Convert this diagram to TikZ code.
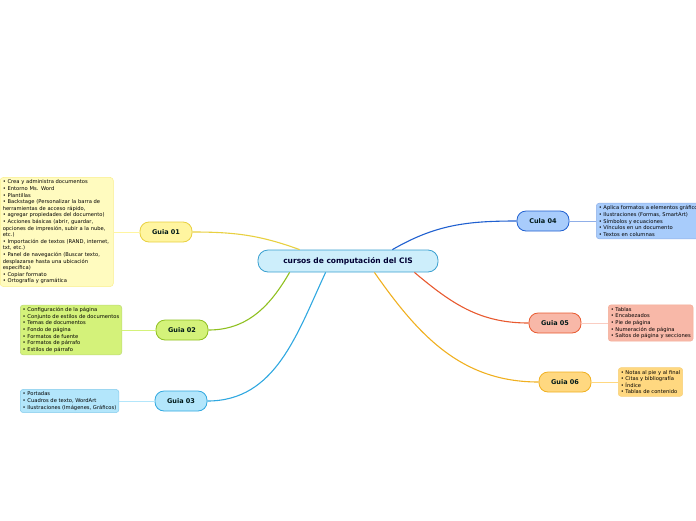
\documentclass[tikz,border=0pt]{standalone}
\usepackage{fontspec}
\setmainfont{DejaVu Sans}
\newcommand{\leaffont}{\fontsize{5.2}{6.6}\selectfont\hyphenpenalty=10000\relax}
\begin{document}
\begin{tikzpicture}[x=1pt,y=-1pt,
  every node/.style={inner sep=0pt},
  topic/.style={draw=#1, line width=0.8pt, rounded corners=9pt, minimum height=20pt, minimum width=52pt, font=\fontsize{6.5}{7}\selectfont\bfseries, text=black!80!teal},
  leaf/.style={draw=#1, line width=0.5pt, rounded corners=3pt, align=left, inner sep=2.5pt, font=\leaffont, anchor=west},
  link/.style={line width=1.1pt, #1},
  twig/.style={line width=0.6pt, #1}]
\useasboundingbox (0,0) rectangle (696,520);
\definecolor{cbl}{HTML}{3AA0D0}\definecolor{fbl}{HTML}{CDEEFB}
\definecolor{cye}{HTML}{E8D040}\definecolor{fye}{HTML}{FFF5A0}\definecolor{lye}{HTML}{FFFBBF}
\definecolor{cgr}{HTML}{8FC020}\definecolor{fgr}{HTML}{D4F27A}
\definecolor{ccy}{HTML}{30A8E0}\definecolor{fcy}{HTML}{B3E6FB}
\definecolor{cbu}{HTML}{2060D0}\definecolor{fbu}{HTML}{A8CCFB}
\definecolor{cor}{HTML}{E85A30}\definecolor{for}{HTML}{F8B8A8}
\definecolor{cam}{HTML}{F0B020}\definecolor{fam}{HTML}{FFD880}
% central topic
\node[draw=cbl, fill=fbl, line width=0.8pt, rounded corners=10pt, minimum width=180pt, minimum height=22pt, font=\fontsize{7.5}{8}\selectfont\bfseries, text=black!80!blue] (cis) at (348,261) {cursos de computación del CIS};
% guides
\node[topic=cye, fill=fye] (g1) at (166,232) {Guia 01};
\node[topic=cgr, fill=fgr] (g2) at (182,330) {Guia 02};
\node[topic=ccy, fill=fcy] (g3) at (181,401) {Guia 03};
\node[topic=cbu, fill=fbu] (g4) at (543,221) {Cula 04};
\node[topic=cor, fill=for] (g5) at (555,323) {Guia 05};
\node[topic=cam, fill=fam] (g6) at (565,382) {Guia 06};
% leaves
\node[leaf=fye!80!cye, fill=lye, text width=108pt] (l1) at (0,232) {• Crea y administra documentos\\• Entorno Ms. Word\\• Plantillas\\• Backstage (Personalizar la barra de herramientas de acceso rápido,\\• agregar propiedades del documento)\\• Acciones básicas (abrir, guardar, opciones de impresión, subir a la nube, etc.)\\• Importación de textos (RAND, internet, txt, etc.)\\• Panel de navegación (Buscar texto, desplazarse hasta una ubicación específica)\\• Copiar formato\\• Ortografía y gramática};
\node[leaf=cgr!60, fill=fgr] (l2) at (20,330) {• Configuración de la página\\• Conjunto de estilos de documentos\\• Temas de documentos\\• Fondo de página\\• Formatos de fuente\\• Formatos de párrafo\\• Estilos de párrafo};
\node[leaf=ccy!60, fill=fcy] (l3) at (20,401) {• Portadas\\• Cuadros de texto, WordArt\\• Ilustraciones (Imágenes, Gráficos)};
\node[leaf=cbu!50, fill=fbu] (l4) at (596,221) {• Aplica formatos a elementos gráficos\\• Ilustraciones (Formas, SmartArt)\\• Símbolos y ecuaciones\\• Vínculos en un documento\\• Textos en columnas};
\node[leaf=cor!50, fill=for] (l5) at (608,323) {• Tablas\\• Encabezados\\• Pie de página\\• Numeración de página\\• Saltos de página y secciones};
\node[leaf=cam!60, fill=fam] (l6) at (618,382) {• Notas al pie y al final\\• Citas y bibliografía\\• Índice\\• Tablas de contenido};
% branches
\draw[link=cye] (cis.north west) ++(42,0) to[out=160,in=0] (g1.east);
\draw[link=cgr] (cis.south west) ++(32,0) to[out=240,in=0] (g2.east);
\draw[link=ccy] (cis.south west) ++(68,0) to[out=245,in=0] (g3.east);
\draw[link=cbu] (cis.north east) ++(-46,0) to[out=30,in=180] (g4.west);
\draw[link=cor] (cis.south east) ++(-24,0) to[out=-40,in=180] (g5.west);
\draw[link=cam] (cis.south east) ++(-64,0) to[out=-55,in=180] (g6.west);
\draw[twig=fye] (g1) -- (l1);
\draw[twig=fgr] (g2) -- (l2);
\draw[twig=fcy] (g3) -- (l3);
\draw[twig=cbu!50] (g4) -- (l4);
\draw[twig=for!70] (g5) -- (l5);
\draw[twig=fam] (g6) -- (l6);
\end{tikzpicture}
\end{document}
